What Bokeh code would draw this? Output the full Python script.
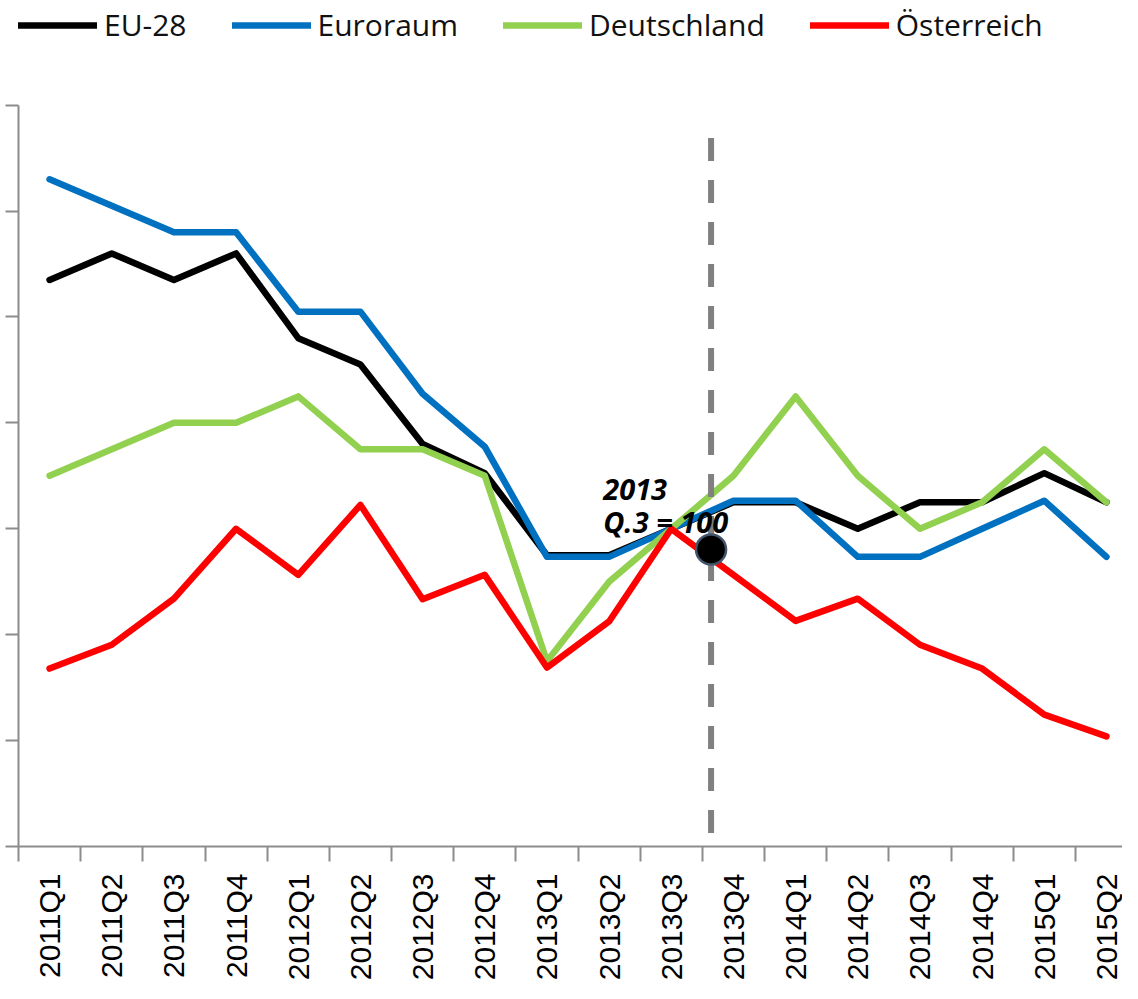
import math
from bokeh.plotting import figure
from bokeh.models import FixedTicker, Legend, LegendItem, Range1d
from bokeh.core.properties import value
from bokeh.embed import file_html
from bokeh.resources import INLINE

# ---------------- data ----------------
quarters = ["2011Q1", "2011Q2", "2011Q3", "2011Q4",
            "2012Q1", "2012Q2", "2012Q3", "2012Q4",
            "2013Q1", "2013Q2", "2013Q3", "2013Q4",
            "2014Q1", "2014Q2", "2014Q3", "2014Q4",
            "2015Q1", "2015Q2"]

eu28 = [104.7, 105.2, 104.7, 105.2, 103.6, 103.1, 101.6, 101.05,
        99.5, 99.5, 100.0, 100.5, 100.5, 100.0, 100.5, 100.5, 101.05, 100.5]
euroraum = [106.6, 106.1, 105.6, 105.6, 104.1, 104.1, 102.55, 101.55,
            99.47, 99.47, 100.0, 100.53, 100.53, 99.47, 99.47, 100.0, 100.53, 99.47]
deutschland = [101.0, 101.5, 102.0, 102.0, 102.5, 101.5, 101.5, 101.0,
               97.5, 99.0, 100.0, 101.0, 102.5, 101.0, 100.0, 100.5, 101.5, 100.5]
oesterreich = [97.36, 97.81, 98.68, 100.0, 99.13, 100.45, 98.67, 99.13,
               97.38, 98.25, 100.0, 99.13, 98.26, 98.68, 97.81, 97.36, 96.49, 96.08]

series_names = ["EU-28", "Euroraum", "Deutschland", "Österreich"]
series_values = [eu28, euroraum, deutschland, oesterreich]
series_colors = ["#000000", "#0070C0", "#92D050", "#FF0000"]

y_ticks = [94, 96, 98, 100, 102, 104, 106, 108]
base_label = ["2013", "Q.3 = 100"]

# annotation placement (data units)
marker_x = 10.64
marker_y = 99.61
dash_top = 107.38
dash_bottom = 94.21
label_x = 8.905
label_y = [100.74, 100.13]

# ---------------- figure ----------------
xs = list(range(len(quarters)))

# frame spans the full height above the x axis so the legend can sit at the top;
# the y axis line itself is bounded to the tick range
p = figure(width=1122, height=983, output_backend="svg", toolbar_location=None,
           x_range=Range1d(-0.5, 17.258), y_range=Range1d(94, 109.976),
           min_border_left=18, min_border_right=0, min_border_top=0,
           min_border_bottom=134)
p.outline_line_color = None
p.xgrid.visible = False
p.ygrid.visible = False
p.background_fill_color = "white"
p.border_fill_color = "white"

renderers = []
for name, vals, col in zip(series_names, series_values, series_colors):
    r = p.line(xs, vals, line_color=col, line_width=6.5,
               line_join="round", line_cap="round")
    renderers.append(r)

# reference marker line / dot / label
p.segment(x0=[marker_x], y0=[dash_top], x1=[marker_x], y1=[dash_bottom],
          line_color="#808080", line_width=6, line_dash="23 19")
p.scatter(x=[marker_x], y=[marker_y], size=30, fill_color="#000000",
          line_color="#44546A", line_width=2.5)
p.text(x=[label_x, label_x], y=label_y, text=base_label,
       text_font=value("Open Sans"), text_font_style="bold italic",
       text_font_size="29px", text_color="#000000",
       text_baseline="alphabetic", text_align="left")

# x axis
xa = p.xaxis[0]
xa.ticker = FixedTicker(ticks=xs, minor_ticks=[i - 0.5 for i in range(len(quarters) + 1)])
xa.major_label_overrides = {i: q for i, q in enumerate(quarters)}
xa.major_label_orientation = math.pi / 2
xa.major_tick_out = 15
xa.major_tick_in = 0
xa.major_tick_line_color = None
xa.minor_tick_out = 15
xa.minor_tick_in = 0
xa.minor_tick_line_color = "#8C8C8C"
xa.minor_tick_line_width = 2
xa.major_label_standoff = 12
xa.major_label_text_font = "Liberation Sans"
xa.major_label_text_font_size = "30px"
xa.major_label_text_color = "#000000"
xa.axis_line_color = "#8C8C8C"
xa.axis_line_width = 2

# y axis (ticks only, no labels)
ya = p.yaxis[0]
ya.ticker = FixedTicker(ticks=y_ticks)
ya.bounds = (y_ticks[0], y_ticks[-1])
ya.major_label_overrides = {t: "" for t in y_ticks}
ya.major_label_text_font_size = "0px"
ya.major_label_standoff = 0
ya.major_tick_out = 13
ya.major_tick_in = 0
ya.major_tick_line_color = "#8C8C8C"
ya.major_tick_line_width = 2
ya.minor_tick_line_color = None
ya.axis_line_color = "#8C8C8C"
ya.axis_line_width = 2

legend = Legend(
    items=[LegendItem(label=n, renderers=[r]) for n, r in zip(series_names, renderers)],
    location=(0, 801), orientation="horizontal",
    glyph_width=79, glyph_height=36, label_standoff=7, spacing=45,
    padding=0, margin=0, border_line_color=None, background_fill_alpha=0,
    label_text_font="Open Sans", label_text_font_size="30px",
    label_text_color="#111111", label_text_baseline="middle",
)
p.add_layout(legend)

open("out.html", "w").write(file_html(p, INLINE))
